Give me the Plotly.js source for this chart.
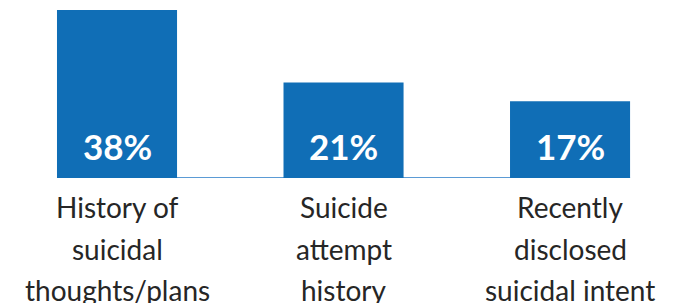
<!DOCTYPE html>
<html>
<head>
<meta charset="utf-8">
<script src="https://cdn.plot.ly/plotly-3.0.1.min.js"></script>
<style>html,body{margin:0;padding:0;background:#fff;}#chart{width:679px;height:303px;}</style>
</head>
<body>
<div id="chart"></div>
<script>
const categories = ["History of<br>suicidal<br>thoughts/plans", "Suicide<br>attempt<br>history", "Recently<br>disclosed<br>suicidal intent"];
const values = [37.6, 21.4, 17.2];
const valueLabels = ["38%", "21%", "17%"];

const barColor = "#106EB6";
const xs = categories.map((c, i) => i);

const annotations = [];
values.forEach((v, i) => {
  annotations.push({
    x: i, y: 0, xref: "x", yref: "y", text: valueLabels[i], showarrow: false,
    yanchor: "middle", yshift: 32,
    font: {family: "Lato, 'Open Sans', sans-serif", size: 35, color: "#ffffff", weight: "bold"}
  });
});
const lineShifts = [-29, -71, -112];
categories.forEach((c, i) => {
  c.split("<br>").forEach((line, j) => {
    annotations.push({
      x: i, y: 0, xref: "x", yref: "y", text: line, showarrow: false,
      yanchor: "middle", yshift: lineShifts[j],
      font: {family: "Lato, 'Open Sans', sans-serif", size: 28, color: "#262626"}
    });
  });
});

const data = [{
  type: "bar", x: xs, y: values, width: 0.53,
  marker: {color: barColor}, hoverinfo: "none"
}];

const layout = {
  width: 679, height: 303,
  margin: {l: 0, r: 0, t: 0, b: 125, pad: 0},
  paper_bgcolor: "#ffffff", plot_bgcolor: "#ffffff",
  showlegend: false,
  xaxis: {range: [-0.5166, 2.481], showticklabels: false, showgrid: false, zeroline: false, showline: false, ticks: ""},
  yaxis: {range: [0, 39.84], visible: false, showgrid: false, zeroline: false},
  shapes: [{type: "line", xref: "x", yref: "y", x0: -0.265, x1: 2.265, y0: 0, y1: 0,
            line: {color: "#5B9BD5", width: 2}, layer: "below"}],
  annotations: annotations
};

Plotly.newPlot("chart", data, layout, {staticPlot: true, displayModeBar: false});
</script>
</body>
</html>
